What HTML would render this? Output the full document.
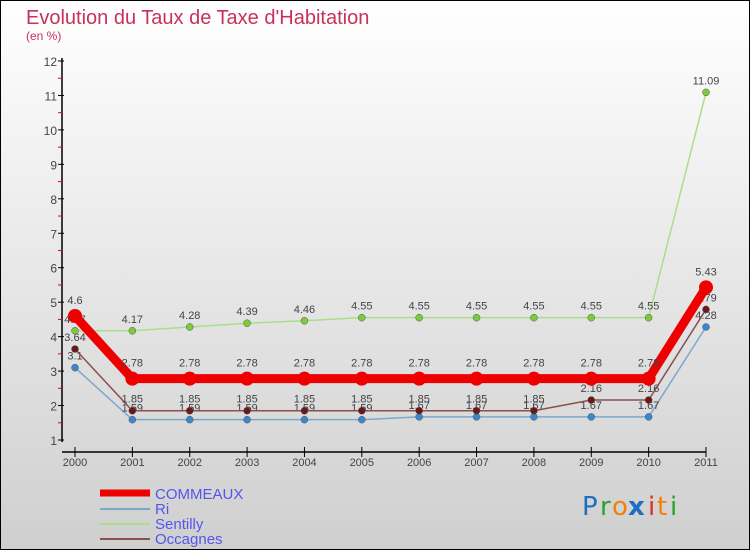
<!DOCTYPE html>
<html><head><meta charset="utf-8"><style>
html,body{margin:0;padding:0}
body{width:750px;height:550px;overflow:hidden;font-family:"Liberation Sans",sans-serif}
</style></head><body>
<svg id="chart" width="750" height="550" xmlns="http://www.w3.org/2000/svg" font-family="Liberation Sans, sans-serif">
<defs><linearGradient id="bg" x1="0" y1="0" x2="0" y2="1"><stop offset="0" stop-color="#ffffff"/><stop offset="1" stop-color="#cfcfcf"/></linearGradient></defs>
<rect x="0.5" y="0.5" width="749" height="549" fill="url(#bg)" stroke="#000"/>
<text x="26" y="24" font-size="20" fill="#c8325a">Evolution du Taux de Taxe d'Habitation</text>
<text x="26" y="40" font-size="12" fill="#c8325a">(en %)</text>
<g id="axes"></g>
<g id="series"></g>
<g id="legend"></g>
<g font-size="26" font-family="DejaVu Sans, sans-serif">
<text x="582" y="515" fill="#1e6fc0">P</text><text x="600" y="515" fill="#2ca02c">r</text><text x="612" y="515" fill="#f07f10">o</text><text x="628" y="515" fill="#1e6fc0" font-weight="bold">x</text><text x="648" y="515" fill="#e03020">i</text><text x="657" y="515" fill="#f07f10">t</text><text x="670" y="515" fill="#2ca02c">i</text>
</g>
</svg>
<script>
const years = [2000,2001,2002,2003,2004,2005,2006,2007,2008,2009,2010,2011];
const commeaux = [4.6,2.78,2.78,2.78,2.78,2.78,2.78,2.78,2.78,2.78,2.78,5.43];
const ri = [3.1,1.59,1.59,1.59,1.59,1.59,1.67,1.67,1.67,1.67,1.67,4.28];
const sentilly = [4.17,4.17,4.28,4.39,4.46,4.55,4.55,4.55,4.55,4.55,4.55,11.09];
const occagnes = [3.64,1.85,1.85,1.85,1.85,1.85,1.85,1.85,1.85,2.16,2.16,4.79];
const yTicks = [1,2,3,4,5,6,7,8,9,10,11,12];

const NS="http://www.w3.org/2000/svg";
const xS = i => 75 + i*(706-75)/(years.length-1);
const yS = v => 440 - (v-1)*(440-61)/11;
function mk(tag, attrs, parent){const e=document.createElementNS(NS,tag);for(const k in attrs)e.setAttribute(k,attrs[k]);parent.appendChild(e);return e;}
const axes=document.getElementById('axes');
let e=mk('line',{x1:62,y1:58,x2:62,y2:442,stroke:'#000','stroke-width':1.5},axes);


e=mk('line',{x1:62,y1:452,x2:706,y2:452,stroke:'#000','stroke-width':1.5},axes);


yTicks.forEach(v=>{
  mk('line',{x1:58,y1:yS(v),x2:64,y2:yS(v),stroke:'#000'},axes);
  if(v<12) mk('line',{x1:58,y1:yS(v+0.5),x2:62,y2:yS(v+0.5),stroke:'#e00'},axes);
  const t=mk('text',{x:57,y:yS(v)+5,'font-size':12,fill:'#444','text-anchor':'end'},axes);
  t.textContent=v;
  
  
});
years.forEach((yr,i)=>{
  mk('line',{x1:xS(i),y1:447,x2:xS(i),y2:457,stroke:'#000'},axes);
  const t=mk('text',{x:xS(i),y:466,'font-size':11,fill:'#444','text-anchor':'middle'},axes);
  t.textContent=yr;
  
  
});
const seriesG=document.getElementById('series');
function draw(name,vals,color,lw,r,dot,labelDy){
  const g=mk('g',{},seriesG);
  
  
  const p=mk('polyline',{points:vals.map((v,i)=>xS(i)+','+yS(v)).join(' '),fill:'none',stroke:color,'stroke-width':lw,'stroke-linejoin':'round'},g);
  
  
  vals.forEach((v,i)=>{
    const c=mk('circle',{cx:xS(i),cy:yS(v),r:r,fill:dot,stroke:r>5?'none':'#555','stroke-width':0.5},g);
    
    
    const t=mk('text',{x:xS(i),y:yS(v)+labelDy,'font-size':11,fill:'#444','text-anchor':'middle'},g);
    t.textContent=v;
    
    
  });
}
draw('sentilly',sentilly,'#a8e08a',1.5,3.5,'#7acc3c',-8);
draw('ri',ri,'#7aa8cc',1.5,3.5,'#3a88cc',-8);
draw('occagnes',occagnes,'#8a5050',1.5,3.5,'#6a1818',-8);
draw('commeaux',commeaux,'#ee0000',9,7,'#ee0000',-12);
const leg=document.getElementById('legend');
const items=[['COMMEAUX','#ee0000',7],['Ri','#7aa8cc',2],['Sentilly','#a8e08a',2],['Occagnes','#8a5050',2]];
items.forEach((it,k)=>{
  const y=493+k*15;
  const g=mk('g',{},leg);
  
  
  mk('line',{x1:100,y1:y+(k?1:0),x2:150,y2:y+(k?1:0),stroke:it[1],'stroke-width':it[2]},g);
  const t=mk('text',{x:155,y:y+6,'font-size':15,fill:'#5555ee'},g);
  t.textContent=it[0];
});
</script>
</body></html>
